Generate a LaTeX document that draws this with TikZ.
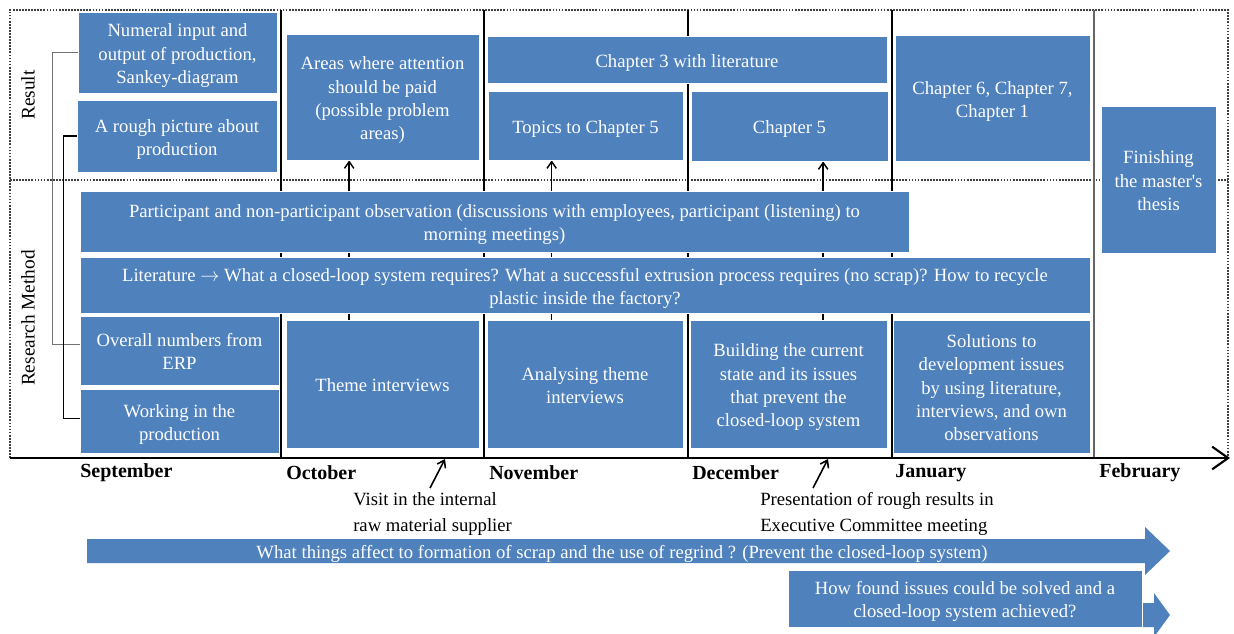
\documentclass[tikz,border=0pt]{standalone}
\usepackage{fontspec}
\setmainfont{Liberation Serif}
\usetikzlibrary{arrows.meta,calc}
\pgfdeclarelayer{background}
\pgfsetlayers{background,main}
\definecolor{boxblue}{RGB}{79,129,189}
% centred lines with equal strut height, set a little below the box middle
\newcommand{\cellstack}[1]{\raisebox{0pt}[\dimexpr\height+4.5pt\relax][\depth]{\begin{tabular}{@{}c@{}}#1\end{tabular}}}
\begin{document}
\begin{tikzpicture}[x=0.75pt,y=-0.75pt,
  box/.style={fill=boxblue, draw=white, line width=0.6pt, inner sep=0pt,
    text=white, font=\fontsize{14}{17.4}\selectfont},
  rect/.style n args={4}{minimum width={(#3-#1)*0.75pt}, minimum height={(#4-#2)*0.75pt},
    at={({(#1+#3)/2},{(#2+#4)/2})}},
  month/.style={anchor=west, inner sep=0pt, font=\bfseries\fontsize{15}{18}\selectfont},
  rowlabel/.style={rotate=90, inner sep=0pt, font=\fontsize{14.5}{17}\selectfont},
  note/.style={anchor=north west, inner sep=0pt, align=left, font=\fontsize{14}{19.5}\selectfont},
  frameline/.style={densely dotted, line width=1.3pt, black!75},
  uparrow/.style={line width=1.1pt, -{Straight Barb[length=5pt,width=7pt]}},
  notearrow/.style={line width=1.2pt, -{Straight Barb[length=5pt,width=7pt]}},
  bigarrow/.style={fill=boxblue, draw=none}
]
\useasboundingbox (0,0) rectangle (1234,634);

% ---------- result row ----------
\node[box, rect={78}{12}{277}{93}] (b1) {\cellstack{Numeral input and\\output of production,\\Sankey-diagram}};
\node[box, rect={77}{100}{277}{172}] (b2) {\cellstack{A rough picture about\\production}};
\node[box, rect={286}{34}{479}{160}] (b3) {\cellstack{Areas where attention\\should be paid\\(possible problem\\areas)}};
\node[box, rect={487}{36}{887}{83}] (b4) {\cellstack{Chapter 3 with literature}};
\node[box, rect={488}{91}{683}{160}] (b5) {\cellstack{Topics to Chapter 5}};
\node[box, rect={691}{91}{888}{161}] (b6) {\cellstack{Chapter 5}};
\node[box, rect={895}{35}{1090}{161}] (b7) {\cellstack{Chapter 6, Chapter 7,\\Chapter 1}};
\node[box, rect={1101}{106}{1216}{253}] (b8) {\cellstack{Finishing\\the master\textquotesingle s\\thesis}};

% ---------- research method row ----------
\node[box, rect={80}{191}{909}{252}] (b9) {\cellstack{Participant and non-participant observation (discussions with employees, participant (listening) to\\morning meetings)}};
\node[box, rect={80}{257}{1090}{313}] (b10) {\cellstack{Literature $\rightarrow$ What a closed-loop system requires? What a successful extrusion process requires (no scrap)? How to recycle\\plastic inside the factory?}};
\node[box, rect={80}{316}{279}{385}] (b11) {\cellstack{Overall numbers from\\ERP}};
\node[box, rect={80}{389}{279}{453}] (b12) {\cellstack{Working in the\\production}};
\node[box, rect={286}{320}{479}{448}] (b13) {\cellstack{Theme interviews}};
\node[box, rect={487}{320}{683}{448}] (b14) {\cellstack{Analysing theme\\interviews}};
\node[box, rect={690}{320}{887}{448}] (b15) {\cellstack{Building the current\\state and its issues\\that prevent the\\closed-loop system}};
\node[box, rect={893}{320}{1090}{453}] (b16) {\cellstack{Solutions to\\development issues\\by using literature,\\interviews, and own\\observations}};

% ---------- row labels and months ----------
\node[rowlabel] (lres) at (28,95) {Result};
\node[rowlabel] (lrm) at (28,318) {Research Method};

\node[month] (m9) at (80,473) {September};
\node[month] (m10) at (286,473) {October};
\node[month] (m11) at (489,473) {November};
\node[month] (m12) at (692,473) {December};
\node[month] (m1) at (895,473) {January};
\node[month] (m2) at (1099,473) {February};

% ---------- events under the time axis ----------
\node[note] (visit) at (353,492) {Visit in the internal\\raw material supplier};
\node[note] (pres) at (760,492) {Presentation of rough results in\\Executive Committee meeting};
\coordinate (visitfrom) at (430,488);
\coordinate (visitto) at (445,459);
\coordinate (presfrom) at (813,488);
\coordinate (presto) at (828,459);
\draw[notearrow] (visitfrom) -- (visitto);
\draw[notearrow] (presfrom) -- (presto);

% ---------- research questions ----------
\draw[bigarrow] (87,539) -- (1145,539) -- (1145,527) -- (1170,551)
  -- (1145,575) -- (1145,563) -- (87,563) -- cycle;
\node[box, fill=none, draw=none] (q1) at (622,551)
  {\cellstack{What things affect to formation of scrap and the use of regrind ? (Prevent the closed-loop system)}};
\draw[bigarrow] (800,603) -- (1154,603) -- (1154,593) -- (1170,615)
  -- (1154,637) -- (1154,627) -- (800,627) -- cycle;
\node[box, rect={788}{570}{1142}{627}] (q2) {\cellstack{How found issues could be solved and a\\closed-loop system achieved?}};

% ---------- grid, axis and links behind the boxes ----------
\begin{pgfonlayer}{background}
  \coordinate (tl) at (10,10);
  \coordinate (tr) at (1228,10);
  \coordinate (bl) at (10,458);
  \coordinate (br) at (1228,458);
  \coordinate (ml) at (10,180);
  \coordinate (mr) at (1228,180);
  \coordinate (axend) at (1230,458);
  \draw[frameline] (bl) -- (tl) -- (tr) -- (br);
  \draw[frameline] (ml) -- (mr);
  \foreach \x/\w/\c in {281/1.5pt/black, 484/1pt/black, 688/1.1pt/black, 892/1.5pt/black, 1094/0.8pt/black!60}
    \draw[line width=\w, \c] (\x,10) -- (\x,458);
  \draw[line width=1.6pt, -{Straight Barb[length=12pt,width=17pt]}] (bl) -- (axend);

  \draw[uparrow] ([xshift=-25pt]b13.north) -- ([xshift=-25pt]b13.north |- b3.south);
  \draw[uparrow] ([xshift=-25pt]b14.north) -- ([xshift=-25pt]b14.north |- b5.south);
  \draw[uparrow] ([xshift=26pt]b15.north) -- ([xshift=26pt]b15.north |- b6.south);

  \draw[line width=0.8pt, black!55] (b1.west) -- ++(-25,0) |- ([yshift=4.5pt]b11.west);
  \draw[line width=0.8pt, black] (b2.west) -- ++(-13,0) |- ([yshift=2pt]b12.west);
\end{pgfonlayer}
\end{tikzpicture}
\end{document}
